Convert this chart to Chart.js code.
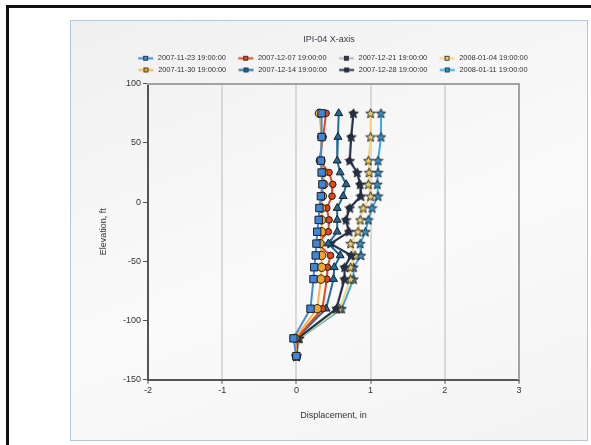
<!DOCTYPE html>
<html>
<head>
<meta charset="utf-8">
<script src="https://cdn.jsdelivr.net/npm/chart.js@4.4.0/dist/chart.umd.min.js"></script>
<style>
  html, body { margin: 0; padding: 0; background: #fff; }
  body { width: 591px; height: 445px; position: relative; overflow: hidden; }
  #frame { position: absolute; left: 6px; top: 5px; width: 640px; height: 480px; border-left: 3px solid #111; border-top: 3px solid #111; }
  #panel { position: absolute; left: 70px; top: 20px; width: 518px; height: 421px; box-sizing: border-box;
           border: 1px solid #b7c7d8; background: linear-gradient(160deg, #f0f0f0 0%, #fafafa 55%, #f3f3f3 100%); }
  #panel canvas { position: absolute; left: 0; top: 0; }
</style>
</head>
<body>
<div id="frame"></div>
<div id="panel"><canvas id="chart" width="516" height="419"></canvas></div>
<script>
// elevation of each reading (ft)
const elevations = [75, 55, 35, 25, 15, 5, -5, -15, -25, -35, -45, -55, -65, -90, -115, -130];

// displacement (in) per survey date
const d20071123 = [0.34, 0.34, 0.33, 0.34, 0.35, 0.33, 0.31, 0.30, 0.28, 0.27, 0.26, 0.24, 0.23, 0.19, -0.04, 0.00];
const d20071130 = [0.31, 0.34, 0.33, 0.36, 0.37, 0.35, 0.34, 0.34, 0.34, 0.32, 0.34, 0.34, 0.33, 0.28, -0.02, 0.00];
const d20071207 = [0.40, 0.36, 0.31, 0.44, 0.49, 0.48, 0.41, 0.44, 0.43, 0.28, 0.46, 0.42, 0.41, 0.35, 0.00, 0.00];
const d20071214 = [0.57, 0.56, 0.55, 0.59, 0.67, 0.63, 0.55, 0.55, 0.55, 0.43, 0.59, 0.51, 0.50, 0.40, 0.00, 0.00];
const d20071221 = [0.76, 0.73, 0.71, 0.81, 0.85, 0.86, 0.71, 0.66, 0.70, 0.45, 0.73, 0.64, 0.64, 0.53, 0.01, 0.00];
const d20071228 = [0.77, 0.74, 0.72, 0.82, 0.86, 0.87, 0.72, 0.67, 0.71, 0.46, 0.74, 0.65, 0.65, 0.54, 0.02, 0.00];
const d20080104 = [1.00, 1.00, 0.97, 0.98, 0.97, 1.00, 0.90, 0.86, 0.83, 0.73, 0.79, 0.73, 0.73, 0.58, 0.03, 0.00];
const d20080111 = [1.14, 1.14, 1.10, 1.10, 1.09, 1.10, 1.02, 0.97, 0.93, 0.86, 0.87, 0.77, 0.77, 0.61, 0.04, 0.00];

const seriesLabels = ['2007-11-23 19:00:00', '2007-11-30 19:00:00', '2007-12-07 19:00:00', '2007-12-14 19:00:00',
                      '2007-12-21 19:00:00', '2007-12-28 19:00:00', '2008-01-04 19:00:00', '2008-01-11 19:00:00'];
const seriesValues = [d20071123, d20071130, d20071207, d20071214, d20071221, d20071228, d20080104, d20080111];
const lineColors   = ['#3f8ae0', '#f6b445', '#e2491c', '#1f6d9f', '#b8b8b8', '#22314f', '#f8d777', '#3aa9e9'];
const markFills    = ['#3f86da', '#f2a524', '#e0481a', '#1e6a9c', '#2a3a58', '#22314f', '#e6cb66', '#2a92cc'];
// legend is laid out column by column in the original
const legendOrder  = [0, 2, 4, 6, 1, 3, 5, 7];

const xTicks = { min: -2, max: 3, step: 1 };
const yTicks = { min: -150, max: 100, step: 50 };

Chart.defaults.font.family = 'Arial, "Liberation Sans", sans-serif';

function starIcon(fill)
{
	const c = document.createElement('canvas');
	c.width = 11; c.height = 11;
	const g = c.getContext('2d');
	g.beginPath();
	for (let k = 0; k < 10; k++) {
		const r = k % 2 ? 2.2 : 5;
		const a = -Math.PI / 2 + k * Math.PI / 5;
		g.lineTo(5.5 + r * Math.cos(a), 5.9 + r * Math.sin(a));
	}
	g.closePath();
	g.fillStyle = fill; g.fill();
	g.strokeStyle = '#2b2b2b'; g.lineWidth = 1; g.stroke();
	return c;
}

function legendIcon(lineColor, fill)
{
	const c = document.createElement('canvas');
	c.width = 24; c.height = 7;
	const g = c.getContext('2d');
	g.strokeStyle = lineColor; g.lineWidth = 2;
	g.beginPath(); g.moveTo(8, 3.5); g.lineTo(23, 3.5); g.stroke();
	g.fillStyle = fill;
	g.fillRect(13.5, 1.5, 4, 4);
	g.strokeStyle = '#1e1e2a'; g.lineWidth = 0.8;
	g.strokeRect(13.5, 1.5, 4, 4);
	return c;
}

const pointStyles = ['rect', 'circle', 'circle', 'triangle', 'circle',
                     starIcon('#22314f'), starIcon('#e6cb66'), starIcon('#2a92cc')];
const pointRadii  = [5.2, 4.2, 3.3, 4.6, 2.5, 5, 5, 5];

const datasets = seriesLabels.map((label, i) => ({
	label: label,
	data: elevations.map((e, k) => ({ x: seriesValues[i][k], y: e })),
	showLine: true,
	order: i === 4 ? 1 : 0,
	borderColor: lineColors[i],
	borderWidth: 2,
	tension: 0,
	pointStyle: pointStyles[i],
	pointRadius: pointRadii[i],
	pointBackgroundColor: markFills[i],
	pointBorderColor: '#1f1f1f',
	pointBorderWidth: 1
}));

const legendIcons = seriesLabels.map((l, i) => legendIcon(lineColors[i], markFills[i]));

const chart = new Chart(document.getElementById('chart'), {
	type: 'scatter',
	data: { datasets: datasets },
	options: {
		responsive: false,
		animation: false,
		layout: { padding: { left: 12, right: 12, top: 0, bottom: 18 } },
		plugins: {
			tooltip: { enabled: false },
			title: {
				display: true,
				text: 'IPI-04 X-axis',
				color: '#3a3a4a',
				font: { size: 9, weight: 'normal' },
				padding: { top: 13, bottom: 5.5 }
			},
			legend: {
				position: 'top',
				labels: {
					usePointStyle: true,
					pointStyleWidth: 24,
					padding: 4.3,
					color: '#333',
					font: { size: 7.4 },
					generateLabels: c => legendOrder.map(i => ({
						text: c.data.datasets[i].label,
						pointStyle: legendIcons[i],
						datasetIndex: i,
						fillStyle: 'transparent',
						strokeStyle: 'transparent',
						lineWidth: 0,
						fontColor: '#333',
						hidden: false
					}))
				}
			}
		},
		scales: {
			x: {
				type: 'linear',
				position: 'bottom',
				min: xTicks.min,
				max: xTicks.max,
				ticks: { stepSize: xTicks.step, color: '#333', font: { size: 9 }, padding: 1 },
				grid: {
					color: c => (c.tick && (c.tick.value === xTicks.min || c.tick.value === xTicks.max)) ? 'rgba(0,0,0,0)' : '#d8d8d8',
					lineWidth: 2,
					tickLength: 4,
					tickColor: '#555',
					tickWidth: 1
				},
				border: { color: '#555', width: 2 },
				title: { display: true, text: 'Displacement, in', color: '#333', font: { size: 9 }, padding: { top: 14, bottom: 0.6 } }
			},
			y: {
				type: 'linear',
				position: 'left',
				min: yTicks.min,
				max: yTicks.max,
				ticks: { stepSize: yTicks.step, color: '#333', font: { size: 9 }, padding: 2 },
				grid: { drawOnChartArea: false, tickLength: 5, tickColor: '#555', tickWidth: 1 },
				border: { color: '#555', width: 2 },
				title: { display: true, text: 'Elevation, ft', color: '#333', font: { size: 9 }, padding: { top: 15.6, bottom: 0 } },
				afterFit: s => { s.width = 65; }
			},
			x2: {
				type: 'linear',
				position: 'top',
				min: xTicks.min,
				max: xTicks.max,
				ticks: { display: false },
				grid: { display: false },
				border: { color: '#a2a2a2', width: 2 },
				afterFit: s => { s.height = 0; }
			},
			y2: {
				type: 'linear',
				position: 'right',
				min: yTicks.min,
				max: yTicks.max,
				ticks: { display: false },
				grid: { display: false },
				border: { color: '#a2a2a2', width: 2 },
				afterFit: s => { s.width = 56; }
			}
		}
	}
});
</script>
</body>
</html>
